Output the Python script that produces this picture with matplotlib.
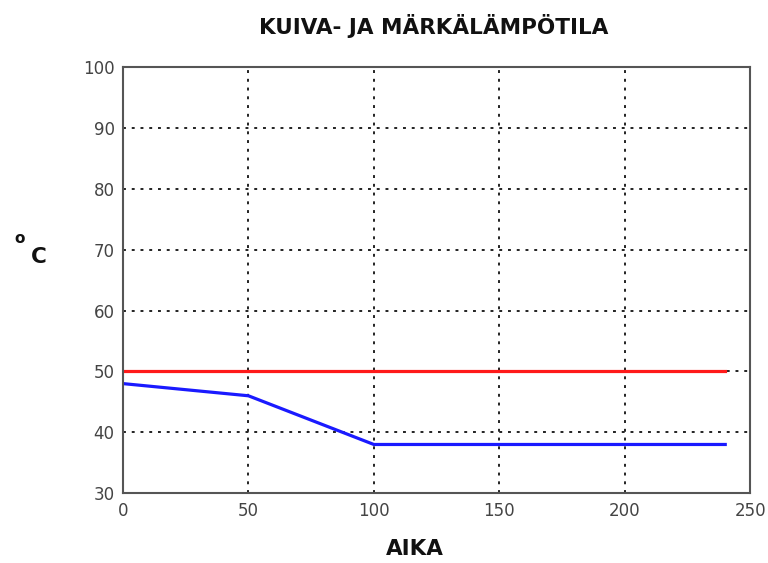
import matplotlib.pyplot as plt

# aika ja lämpötilat
aika_kuiva = [0, 240]
kuiva = [50, 50]
aika_marka = [0, 50, 100, 240]
marka = [48, 46, 38, 38]

x_ticks = [0, 50, 100, 150, 200, 250]
y_ticks = [30, 40, 50, 60, 70, 80, 90, 100]

fig = plt.figure(figsize=(7.68, 5.63), dpi=100)
ax = fig.add_axes([0.160, 0.124, 0.817, 0.757])

ax.plot(aika_kuiva, kuiva, color='#ff1a1a', linewidth=2.3)
ax.plot(aika_marka, marka, color='#1a1aff', linewidth=2.3)

ax.set_xlim(0, 250)
ax.set_ylim(30, 100)
ax.set_xticks(x_ticks)
ax.set_yticks(y_ticks)
ax.grid(True, color='#222222', linestyle=(0, (1.5, 3)), linewidth=1.4)
ax.tick_params(length=0, labelsize=12, labelcolor='#444444', pad=6)
for s in ax.spines.values():
    s.set_color('#555555')
    s.set_linewidth(1.5)

fig.text(0.565, 0.954, 'KUIVA- JA MÄRKÄLÄMPÖTILA', ha='center', va='center',
         fontsize=15.5, fontweight='bold', color='#111111')
fig.text(0.540, 0.024, 'AIKA', ha='center', va='center',
         fontsize=15.5, fontweight='bold', color='#111111')
fig.text(0.026, 0.577, 'o', ha='center', va='center',
         fontsize=11, fontweight='bold', color='#111111')
fig.text(0.050, 0.543, 'C', ha='center', va='center',
         fontsize=15.5, fontweight='bold', color='#111111')

plt.savefig('out.png', dpi=100)
